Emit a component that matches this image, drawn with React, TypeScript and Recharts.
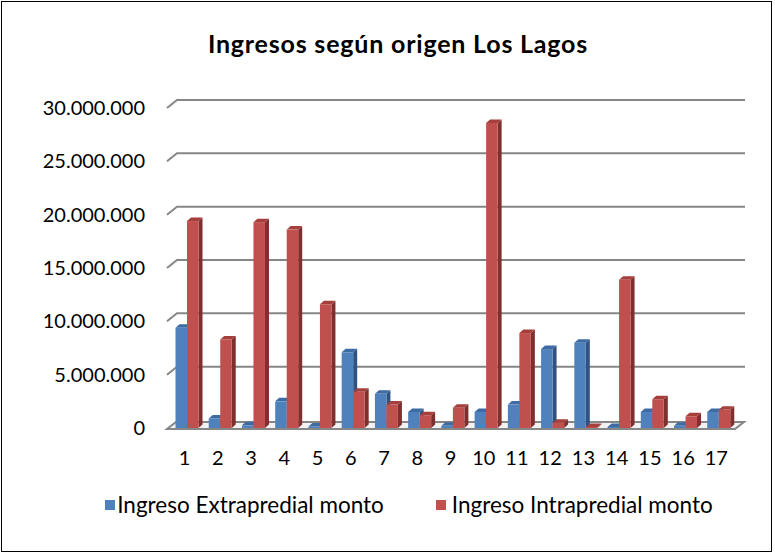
import React from "react";
import { BarChart, Bar, XAxis, YAxis, CartesianGrid } from "recharts";

const categorias = ["1", "2", "3", "4", "5", "6", "7", "8", "9", "10", "11", "12", "13", "14", "15", "16", "17"];
const extrapredial = [9400000, 900000, 250000, 2500000, 150000, 7100000, 3200000, 1500000, 200000, 1500000, 2200000, 7400000, 8000000, 100000, 1500000, 200000, 1500000];
const intrapredial = [19400000, 8300000, 19300000, 18600000, 11600000, 3400000, 2200000, 1200000, 1900000, 28600000, 8900000, 500000, 100000, 13900000, 2700000, 1100000, 1700000];
const ticksY = [0, 5000000, 10000000, 15000000, 20000000, 25000000, 30000000];

const data = categorias.map((c, i) => ({
  cat: c,
  extra: extrapredial[i],
  intra: intrapredial[i],
}));

const FONT = "Lato, 'Noto Sans', sans-serif";
const PLOT_BOTTOM = 428;

const fmt = (v: number) => String(v).replace(/\B(?=(\d{3})+(?!\d))/g, ".");

// barra con cara frontal, lateral y superior para imitar el 3D
function makeBar3D(front: string, side: string, top: string) {
  return (props: any) => {
    const { x, y, width, height } = props;
    if (x == null || y == null) return null;
    const dx = 4;
    const dy = -3.5;
    const sx = x + 2.5;
    const b = y + height;
    return (
      <g>
        <polygon points={`${sx + width},${y} ${sx + width + dx},${y + dy} ${sx + width + dx},${b + dy} ${sx + width},${b}`} fill={side} />
        <polygon points={`${sx},${y} ${sx + dx},${y + dy} ${sx + width + dx},${y + dy} ${sx + width},${y}`} fill={top} />
        <rect x={sx} y={y} width={width} height={Math.max(height, 0.5)} fill={front} />
      </g>
    );
  };
}

const BlueBar = makeBar3D("#4f81bd", "#2f5281", "#3d6ba3");
const RedBar = makeBar3D("#c0504d", "#7f2f2d", "#a43f3c");

function GridLine(p: any) {
  const { x1, y1, x2 } = p;
  if (y1 >= PLOT_BOTTOM - 1) {
    return (
      <polygon
        key={p.key}
        points={`${x1 - 1},${y1 + 1} ${x2 + 2},${y1 + 1} ${x2 + 11},${y1 - 6} ${x1 + 8},${y1 - 6}`}
        fill="#f2f2f2"
        stroke="#868686"
        strokeWidth={2}
      />
    );
  }
  return (
    <polyline
      key={p.key}
      points={`${x1 - 1},${y1} ${x1 + 9},${y1 - 8} ${x2 + 12},${y1 - 8}`}
      fill="none"
      stroke="#868686"
      strokeWidth={2}
    />
  );
}

const legendItems = [
  { color: "#4f81bd", label: "Ingreso Extrapredial monto", gap: 2 },
  { color: "#c0504d", label: "Ingreso Intrapredial monto", gap: 6 },
];

export default function App() {
  return (
    <div style={{ position: "absolute", left: 0, top: 0, width: 775, height: 554, background: "#fff" }}>
      <div style={{ position: "absolute", left: 1, top: 1, width: 769, height: 549, border: "1px solid #000" }} />
      <div
        style={{
          position: "absolute",
          left: 0,
          top: 28,
          width: 796,
          textAlign: "center",
          fontFamily: FONT,
          fontWeight: 700,
          fontSize: 25,
          letterSpacing: 0.8,
          color: "#000",
        }}
      >
        Ingresos según origen Los Lagos
      </div>
      <div style={{ position: "absolute", left: 0, top: 0 }}>
        <BarChart
          width={775}
          height={554}
          data={data}
          margin={{ top: 108, right: 42, bottom: 0, left: 8 }}
          barGap={0}
          barSize={11.5}
        >
          <CartesianGrid vertical={false} horizontal={GridLine} />
          <XAxis
            dataKey="cat"
            axisLine={false}
            tickLine={false}
            tickSize={0}
            tickMargin={23}
            height={126}
            interval={0}
            tick={{ fill: "#000", fontSize: 20, fontFamily: FONT }}
          />
          <YAxis
            domain={[0, 30000000]}
            ticks={ticksY}
            axisLine={false}
            tickLine={false}
            tickSize={0}
            tickMargin={23}
            width={160}
            tickFormatter={fmt}
            tick={{ fill: "#000", fontSize: 20, fontFamily: FONT }}
          />
          <Bar dataKey="extra" name="Ingreso Extrapredial monto" fill="#4f81bd" shape={BlueBar} isAnimationActive={false} />
          <Bar dataKey="intra" name="Ingreso Intrapredial monto" fill="#c0504d" shape={RedBar} isAnimationActive={false} />
        </BarChart>
      </div>
      <div
        style={{
          position: "absolute",
          left: 0,
          top: 491,
          width: 818,
          display: "flex",
          justifyContent: "center",
          gap: 52,
          fontFamily: FONT,
          fontSize: 22.5,
          color: "#000",
        }}
      >
        {legendItems.map((it) => (
          <div key={it.label} style={{ display: "flex", alignItems: "center" }}>
            <span style={{ width: 10, height: 10, background: it.color, marginRight: it.gap, display: "inline-block" }} />
            <span>{it.label}</span>
          </div>
        ))}
      </div>
    </div>
  );
}
